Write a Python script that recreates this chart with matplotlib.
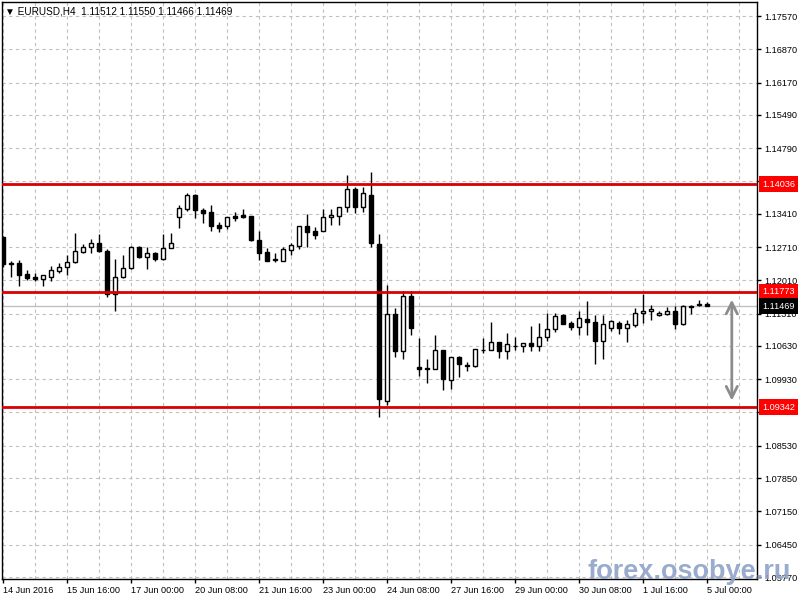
import matplotlib.pyplot as plt
from matplotlib import transforms

# EURUSD H4 candles, 14 Jun - 5 Jul 2016
opens = [1.12922, 1.12375, 1.12369, 1.12144, 1.12087, 1.12032, 1.12087, 1.12201, 1.12285, 1.12390,
         1.12600, 1.12705, 1.12789, 1.12627, 1.11717, 1.12074, 1.12263, 1.12705, 1.12495, 1.12579,
         1.12465, 1.12684, 1.13336, 1.13511, 1.13811, 1.13490, 1.13454, 1.13174, 1.13147, 1.13363,
         1.13384, 1.13363, 1.12859, 1.12600, 1.12465, 1.12423, 1.12655, 1.12739, 1.13153, 1.13054,
         1.13054, 1.13336, 1.13370, 1.13559, 1.13925, 1.13553, 1.13805, 1.12768, 1.09478, 1.11295,
         1.10529, 1.11680, 1.10177, 1.10167, 1.10152, 1.10537, 1.09919, 1.10390, 1.10219, 1.10204,
         1.10549, 1.10549, 1.10718, 1.10520, 1.10634, 1.10634, 1.10682, 1.10625, 1.10823, 1.10991,
         1.11271, 1.11107, 1.11037, 1.11199, 1.11136, 1.10728, 1.11012, 1.11117, 1.11012, 1.11061,
         1.11319, 1.11370, 1.11271, 1.11306, 1.11370, 1.11096, 1.11474, 1.11481, 1.11512]
highs = [1.12943, 1.12417, 1.12438, 1.12228, 1.12158, 1.12122, 1.12312, 1.12381, 1.12537, 1.13012,
         1.12768, 1.12873, 1.12985, 1.12663, 1.12459, 1.12537, 1.12732, 1.12732, 1.12705, 1.12613,
         1.12985, 1.13012, 1.13595, 1.13854, 1.13816, 1.13538, 1.13595, 1.13237, 1.13342, 1.13448,
         1.13504, 1.13363, 1.13042, 1.12684, 1.12579, 1.12718, 1.12789, 1.13153, 1.13406, 1.13138,
         1.13504, 1.13504, 1.13559, 1.14226, 1.13980, 1.13980, 1.14295, 1.12985, 1.11911, 1.11434,
         1.11791, 1.11791, 1.10797, 1.10358, 1.10859, 1.10537, 1.10390, 1.10418, 1.10303, 1.10570,
         1.10801, 1.11124, 1.10718, 1.10907, 1.10823, 1.10682, 1.11040, 1.11117, 1.11313, 1.11313,
         1.11306, 1.11163, 1.11374, 1.11577, 1.11271, 1.11271, 1.11180, 1.11163, 1.11180, 1.11433,
         1.11713, 1.11502, 1.11374, 1.11446, 1.11460, 1.11502, 1.11481, 1.11601, 1.11550]
lows = [1.12291, 1.12087, 1.11891, 1.12017, 1.12003, 1.11891, 1.11990, 1.12171, 1.12116, 1.12375,
        1.12591, 1.12591, 1.12606, 1.11667, 1.11358, 1.12059, 1.12259, 1.12480, 1.12242, 1.12423,
        1.12438, 1.12680, 1.13105, 1.13475, 1.13315, 1.13223, 1.13054, 1.13027, 1.13090, 1.13265,
        1.13315, 1.12831, 1.12438, 1.12423, 1.12390, 1.12423, 1.12549, 1.12663, 1.12705, 1.12886,
        1.13054, 1.13181, 1.13181, 1.13454, 1.13418, 1.13441, 1.12705, 1.09128, 1.09388, 1.10403,
        1.10355, 1.10860, 1.09995, 1.09850, 1.10152, 1.09702, 1.09729, 1.09970, 1.10099, 1.10192,
        1.10478, 1.10545, 1.10373, 1.10355, 1.10541, 1.10499, 1.10514, 1.10514, 1.10725, 1.10928,
        1.11092, 1.10974, 1.10859, 1.10859, 1.10258, 1.10363, 1.10939, 1.10884, 1.10704, 1.11025,
        1.11107, 1.11180, 1.11264, 1.11271, 1.10991, 1.11061, 1.11306, 1.11474, 1.11466]
closes = [1.12354, 1.12364, 1.12129, 1.12059, 1.12032, 1.12116, 1.12228, 1.12285, 1.12390, 1.12627,
          1.12705, 1.12789, 1.12621, 1.11723, 1.12074, 1.12263, 1.12705, 1.12495, 1.12579, 1.12465,
          1.12684, 1.12789, 1.13525, 1.13805, 1.13490, 1.13433, 1.13159, 1.13117, 1.13336, 1.13321,
          1.13342, 1.12859, 1.12591, 1.12423, 1.12444, 1.12663, 1.12747, 1.13153, 1.13033, 1.12970,
          1.13336, 1.13378, 1.13559, 1.13925, 1.13553, 1.13847, 1.12789, 1.09507, 1.11295, 1.10529,
          1.11680, 1.11013, 1.10135, 1.10135, 1.10537, 1.09933, 1.10390, 1.10256, 1.10209, 1.10570,
          1.10543, 1.10718, 1.10520, 1.10661, 1.10630, 1.10682, 1.10625, 1.10823, 1.10991, 1.11256,
          1.11096, 1.11037, 1.11220, 1.11128, 1.10728, 1.11086, 1.11145, 1.11012, 1.11082, 1.11319,
          1.11370, 1.11412, 1.11319, 1.11370, 1.11096, 1.11460, 1.11453, 1.11520, 1.11469]

levels = [1.14036, 1.11773, 1.09342]
last_price = 1.11469

price_ticks = [1.17570, 1.16870, 1.16170, 1.15490, 1.14790, 1.14090, 1.13410, 1.12710, 1.12010,
               1.11310, 1.10630, 1.09930, 1.09250, 1.08530, 1.07850, 1.07150, 1.06450, 1.05770]
time_labels = ['14 Jun 2016', '15 Jun 16:00', '17 Jun 00:00', '20 Jun 08:00', '21 Jun 16:00',
               '23 Jun 00:00', '24 Jun 08:00', '27 Jun 16:00', '29 Jun 00:00', '30 Jun 08:00',
               '1 Jul 16:00', '5 Jul 00:00']
label_every = 8
grid_every = 4

FONT = ['Liberation Sans', 'DejaVu Sans']
plt.rcParams['font.family'] = FONT
FS = 6.6

fig = plt.figure(figsize=(8, 6), dpi=100)
ax = fig.add_axes([2 / 800, 21 / 600, 755 / 800, 577 / 600])

n = len(opens)
xs = list(range(n))

# grid
for gx in range(0, 96, grid_every):
    ax.axvline(gx, color='#c0c0c0', lw=0.8, ls=(0, (3, 3)), zorder=0)
for t in price_ticks:
    ax.axhline(t, color='#c0c0c0', lw=0.8, ls=(0, (3, 3)), zorder=0)

# bid line
ax.axhline(last_price, color='#c0c0c0', lw=1, zorder=1)

# candles
ax.vlines(xs, lows, highs, color='black', lw=1, zorder=3)
bottoms = [min(o, c) for o, c in zip(opens, closes)]
heights = [max(abs(c - o), 0.00003) for o, c in zip(opens, closes)]
faces = ['white' if c >= o else 'black' for o, c in zip(opens, closes)]
ax.bar(xs, heights, bottom=bottoms, width=0.55, color=faces, edgecolor='black', lw=1, zorder=4)

# support / resistance lines
for lvl in levels:
    ax.axhline(lvl, color='#d80000', lw=2, zorder=5)

# range arrow
ax.annotate('', xy=(91.1, levels[2] + 0.0008), xytext=(91.1, levels[1] - 0.0011),
            arrowprops=dict(arrowstyle='<->', color='#8c8c8c', lw=2, mutation_scale=20),
            zorder=6)

ax.set_xlim(-0.125, 94.25)
ax.set_ylim(1.05728, 1.17865)

ax.yaxis.tick_right()
ax.set_yticks(price_ticks)
ax.set_yticklabels([f'{t:.5f}' for t in price_ticks])
ax.tick_params(axis='y', direction='out', length=3, width=1, pad=2, labelsize=FS)

ax.set_xticks(list(range(0, n, label_every)))
ax.set_xticklabels(time_labels)
for lab in ax.get_xticklabels():
    lab.set_ha('left')
ax.tick_params(axis='x', direction='out', length=3, width=1, pad=2, labelsize=FS)

for sp in ax.spines.values():
    sp.set_color('black')
    sp.set_linewidth(1)

# price labels on the right scale
trans = transforms.blended_transform_factory(ax.transAxes, ax.transData)
for lvl in levels:
    ax.text(1.0 + 5 / 755, lvl, f'{lvl:.5f}', transform=trans, ha='left', va='center',
            color='white', fontsize=FS, clip_on=False, zorder=10,
            bbox=dict(boxstyle='square,pad=0.35', fc='#ff0000', ec='none'))
ax.text(1.0 + 5 / 755, last_price, f'{last_price:.5f}', transform=trans, ha='left', va='center',
        color='white', fontsize=FS, clip_on=False, zorder=10,
        bbox=dict(boxstyle='square,pad=0.35', fc='black', ec='none'))

# header
ax.text(0.004, 0.992, '\u25bc EURUSD,H4  1.11512 1.11550 1.11466 1.11469', transform=ax.transAxes,
        ha='left', va='top', fontsize=7.2, family=FONT)

# watermark
fig.text(0.861, 0.046, 'forex.osobye.ru', ha='center', va='center', fontsize=19.5,
         fontweight='bold', color='#8fa3c8', alpha=0.9, family=FONT, zorder=20)

fig.savefig('out.png', dpi=100)
